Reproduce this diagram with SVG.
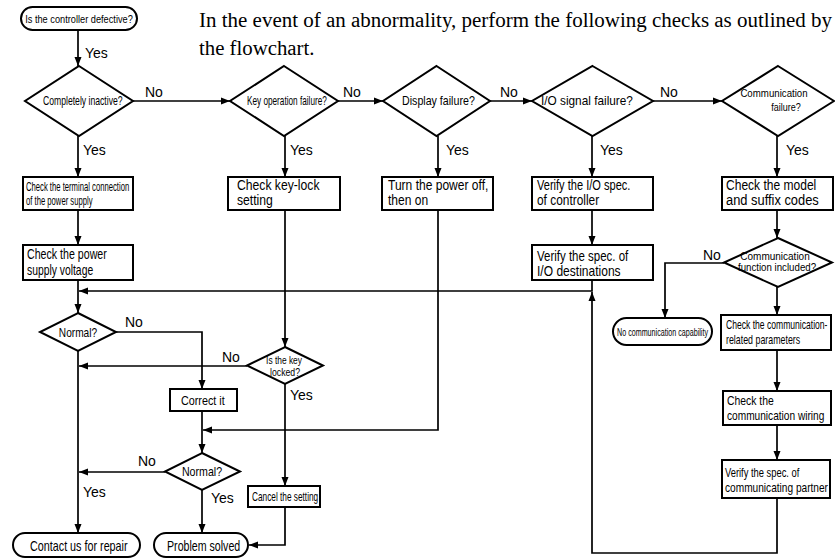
<svg xmlns="http://www.w3.org/2000/svg" width="835" height="559" viewBox="0 0 835 559">
<style>
.bg{fill:#fff}
.shape{fill:#fff;stroke:#000;stroke-width:2}
.ln{fill:none;stroke:#000;stroke-width:1.7}
.t{font-family:"Liberation Sans",Arial,sans-serif;fill:#000}
.m{text-anchor:middle}
.lbl{font-size:14px}
.s14{font-size:14px}
.s13{font-size:13px}
.s12{font-size:12px}
.s11{font-size:11px}
.s10{font-size:10px}
.title{font-family:"Liberation Serif","Times New Roman",serif;font-size:20.8px;fill:#000}
</style>
<defs>
<marker id="ah" markerUnits="userSpaceOnUse" markerWidth="10" markerHeight="8" refX="9" refY="4" orient="auto">
<path d="M0,0.5 L9,4 L0,7.5 z" fill="#000"/>
</marker>
</defs>
<rect class="bg" x="0" y="0" width="835" height="559"/>

<g id="title">
<text class="title" x="199" y="27" textLength="633" lengthAdjust="spacingAndGlyphs">In the event of an abnormality, perform the following checks as outlined by</text>
<text class="title" x="199" y="55">the flowchart.</text>
</g>

<g id="connectors">
<path class="ln" d="M78,30 V66" marker-end="url(#ah)"/>
<path class="ln" d="M133,101 H230" marker-end="url(#ah)"/>
<path class="ln" d="M338,101 H383" marker-end="url(#ah)"/>
<path class="ln" d="M490,101 H532" marker-end="url(#ah)"/>
<path class="ln" d="M653,101 H722" marker-end="url(#ah)"/>
<path class="ln" d="M78,136 V177" marker-end="url(#ah)"/>
<path class="ln" d="M285,136 V177" marker-end="url(#ah)"/>
<path class="ln" d="M438,136 V177" marker-end="url(#ah)"/>
<path class="ln" d="M592,136 V177" marker-end="url(#ah)"/>
<path class="ln" d="M777,136 V177" marker-end="url(#ah)"/>
<path class="ln" d="M78,210 V245" marker-end="url(#ah)"/>
<path class="ln" d="M78,280 V313" marker-end="url(#ah)"/>
<path class="ln" d="M592,210 V245" marker-end="url(#ah)"/>
<path class="ln" d="M592,280 V291 H79" marker-end="url(#ah)"/>
<path class="ln" d="M116,332 H202 V389" marker-end="url(#ah)"/>
<path class="ln" d="M285,210 V347" marker-end="url(#ah)"/>
<path class="ln" d="M247,366 H79" marker-end="url(#ah)"/>
<path class="ln" d="M285,384 V486" marker-end="url(#ah)"/>
<path class="ln" d="M285,507 V545 H249" marker-end="url(#ah)"/>
<path class="ln" d="M438,210 V430 H203" marker-end="url(#ah)"/>
<path class="ln" d="M202,411 V453" marker-end="url(#ah)"/>
<path class="ln" d="M165,472 H79" marker-end="url(#ah)"/>
<path class="ln" d="M202,490 V533" marker-end="url(#ah)"/>
<path class="ln" d="M78,351 V533" marker-end="url(#ah)"/>
<path class="ln" d="M777,210 V238" marker-end="url(#ah)"/>
<path class="ln" d="M724,263 H665 V318" marker-end="url(#ah)"/>
<path class="ln" d="M777,287 V315" marker-end="url(#ah)"/>
<path class="ln" d="M777,350 V391" marker-end="url(#ah)"/>
<path class="ln" d="M777,425 V460" marker-end="url(#ah)"/>
<path class="ln" d="M777,498 V553 H592 V292" marker-end="url(#ah)"/>
</g>

<g id="labels">
<text class="t lbl" x="85" y="58">Yes</text>
<text class="t lbl" x="145" y="97">No</text>
<text class="t lbl" x="343" y="97">No</text>
<text class="t lbl" x="500" y="97">No</text>
<text class="t lbl" x="660" y="97">No</text>
<text class="t lbl" x="83" y="155">Yes</text>
<text class="t lbl" x="290" y="155">Yes</text>
<text class="t lbl" x="446" y="155">Yes</text>
<text class="t lbl" x="600" y="155">Yes</text>
<text class="t lbl" x="786" y="155">Yes</text>
<text class="t lbl" x="703" y="260">No</text>
<text class="t lbl" x="125" y="327">No</text>
<text class="t lbl" x="222" y="362">No</text>
<text class="t lbl" x="290" y="400">Yes</text>
<text class="t lbl" x="138" y="466">No</text>
<text class="t lbl" x="83" y="497">Yes</text>
<text class="t lbl" x="211" y="503">Yes</text>
</g>

<g id="n-start">
<rect class="shape" x="21" y="7" width="116" height="23" rx="11.5"/>
<text class="t s11 m" transform="translate(79,23) scale(0.84,1)">Is the controller defective?</text>
</g>

<g id="n-inactive">
<polygon class="shape" points="79,66 133,101 79,136 25,101"/>
<text class="t s12" transform="translate(43,105) scale(0.72,1)">Completely inactive?</text>
</g>
<g id="n-keyfail">
<polygon class="shape" points="284,66 338,101 284,136 230,101"/>
<text class="t s12" transform="translate(247,105) scale(0.685,1)">Key operation failure?</text>
</g>
<g id="n-display">
<polygon class="shape" points="436.5,66 490,101 436.5,136 383,101"/>
<text class="t s13" transform="translate(402,105) scale(0.82,1)">Display failure?</text>
</g>
<g id="n-io">
<polygon class="shape" points="592.5,66 653,101 592.5,136 532,101"/>
<text class="t s13" transform="translate(541,105) scale(0.91,1)">I/O signal failure?</text>
</g>
<g id="n-comm">
<polygon class="shape" points="778,66 834,101 778,136 722,101"/>
<text class="t s11 m" transform="translate(774,97) scale(0.88,1)">Communication</text>
<text class="t s11 m" transform="translate(786,111) scale(0.82,1)">failure?</text>
</g>

<g id="n-terminal">
<rect class="shape" x="23" y="177" width="110" height="33"/>
<text class="t s12" transform="translate(26,191) scale(0.64,1)">Check the terminal connection</text>
<text class="t s12" transform="translate(26,205) scale(0.64,1)">of the power supply</text>
</g>
<g id="n-voltage">
<rect class="shape" x="23" y="245" width="110" height="35"/>
<text class="t s14" transform="translate(27,259) scale(0.76,1)">Check the power</text>
<text class="t s14" transform="translate(27,275) scale(0.74,1)">supply voltage</text>
</g>
<g id="n-keylock">
<rect class="shape" x="228" y="177" width="112" height="33"/>
<text class="t s14" transform="translate(237,190) scale(0.87,1)">Check key-lock</text>
<text class="t s14" transform="translate(237,205) scale(0.87,1)">setting</text>
</g>
<g id="n-power">
<rect class="shape" x="382" y="177" width="111" height="33"/>
<text class="t s14" transform="translate(388,190) scale(0.86,1)">Turn the power off,</text>
<text class="t s14" transform="translate(388,205) scale(0.86,1)">then on</text>
</g>
<g id="n-iospec">
<rect class="shape" x="532" y="177" width="121" height="33"/>
<text class="t s14" transform="translate(537,190) scale(0.79,1)">Verify the I/O spec.</text>
<text class="t s14" transform="translate(537,205) scale(0.85,1)">of controller</text>
</g>
<g id="n-iodest">
<rect class="shape" x="532" y="245" width="121" height="35"/>
<text class="t s14" transform="translate(537,261) scale(0.82,1)">Verify the spec. of</text>
<text class="t s14" transform="translate(537,276) scale(0.86,1)">I/O destinations</text>
</g>
<g id="n-model">
<rect class="shape" x="722" y="177" width="111" height="33"/>
<text class="t s14" transform="translate(726,190) scale(0.86,1)">Check the model</text>
<text class="t s14" transform="translate(726,205) scale(0.92,1)">and suffix codes</text>
</g>
<g id="n-commfunc">
<polygon class="shape" points="778,238 832,262.5 778,287 724,262.5"/>
<text class="t s10 m" transform="translate(775,259.5) scale(1.0,1)">Communication</text>
<text class="t s10 m" transform="translate(777,271) scale(0.97,1)">function included?</text>
</g>
<g id="n-nocomm">
<rect class="shape" x="613" y="318" width="99" height="27" rx="13.5"/>
<text class="t s11 m" transform="translate(662.5,335.5) scale(0.65,1)">No communication capability</text>
</g>
<g id="n-params">
<rect class="shape" x="721" y="315" width="110" height="35"/>
<text class="t s13" transform="translate(726,329) scale(0.66,1)">Check the communication-</text>
<text class="t s13" transform="translate(726,344) scale(0.68,1)">related parameters</text>
</g>
<g id="n-wiring">
<rect class="shape" x="723" y="391" width="108" height="34"/>
<text class="t s13" transform="translate(727,405) scale(0.8,1)">Check the</text>
<text class="t s13" transform="translate(727,420) scale(0.78,1)">communication wiring</text>
</g>
<g id="n-partner">
<rect class="shape" x="722" y="460" width="108" height="38"/>
<text class="t s13" transform="translate(725,477) scale(0.72,1)">Verify the spec. of</text>
<text class="t s13" transform="translate(725,492) scale(0.78,1)">communicating partner</text>
</g>

<g id="n-normal1">
<polygon class="shape" points="78,313 116,332 78,351 40,332"/>
<text class="t s13 m" transform="translate(78,337) scale(0.78,1)">Normal?</text>
</g>
<g id="n-keylocked">
<polygon class="shape" points="285,347 323,365.5 285,384 247,365.5"/>
<text class="t s10 m" transform="translate(284,364) scale(0.84,1)">Is the key</text>
<text class="t s10 m" transform="translate(285,375.5) scale(0.87,1)">locked?</text>
</g>
<g id="n-correct">
<rect class="shape" x="170" y="389" width="67" height="22"/>
<text class="t s13" transform="translate(181,405) scale(0.83,1)">Correct it</text>
</g>
<g id="n-normal2">
<polygon class="shape" points="202,453 240,471.5 202,490 165,471.5"/>
<text class="t s13 m" transform="translate(202,476) scale(0.82,1)">Normal?</text>
</g>
<g id="n-cancel">
<rect class="shape" x="248" y="486" width="72" height="21"/>
<text class="t s12" transform="translate(252,501) scale(0.69,1)">Cancel the setting</text>
</g>
<g id="n-repair">
<rect class="shape" x="13" y="533" width="127" height="24" rx="12"/>
<text class="t s14" transform="translate(30,551) scale(0.77,1)">Contact us for repair</text>
</g>
<g id="n-solved">
<rect class="shape" x="154" y="533" width="94" height="24" rx="12"/>
<text class="t s14" transform="translate(167,551) scale(0.76,1)">Problem solved</text>
</g>
</svg>
